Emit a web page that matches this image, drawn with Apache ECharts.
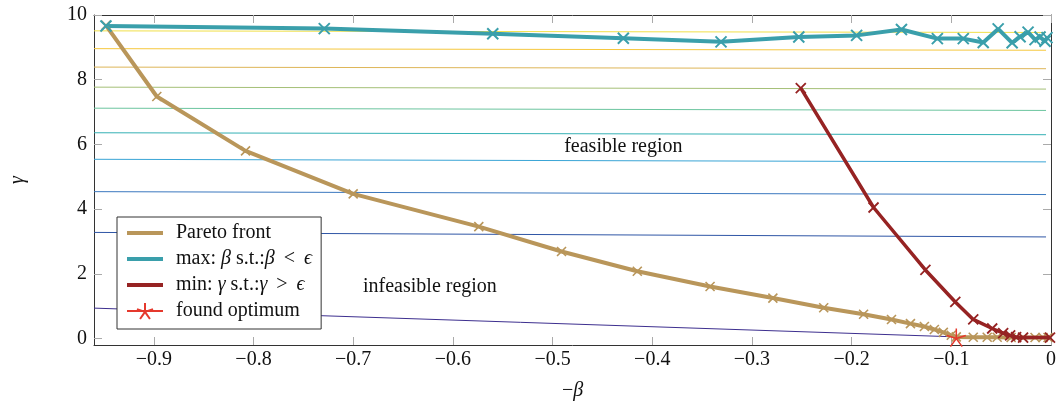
<!DOCTYPE html>
<html><head><meta charset="utf-8">
<script src="https://cdn.jsdelivr.net/npm/echarts@6/dist/echarts.min.js"></script>
<style>html,body{margin:0;padding:0;background:#fff}#c{width:1059px;height:406px}</style>
</head><body><div id="c"></div>
<script>
// ---- data ----
const xTicks = [-0.9, -0.8, -0.7, -0.6, -0.5, -0.4, -0.3, -0.2, -0.1, 0];
const yTicks = [0, 2, 4, 6, 8, 10];

const paretoFront = [
  [-0.948, 9.68], [-0.897, 7.48], [-0.808, 5.80], [-0.700, 4.47], [-0.574, 3.46],
  [-0.491, 2.69], [-0.415, 2.08], [-0.342, 1.61], [-0.279, 1.25], [-0.228, 0.95],
  [-0.188, 0.75], [-0.160, 0.59], [-0.141, 0.46], [-0.127, 0.37], [-0.117, 0.28],
  [-0.108, 0.19], [-0.100, 0.10], [-0.095, 0.05], [-0.078, 0.04], [-0.064, 0.04],
  [-0.054, 0.04], [-0.040, 0.03], [-0.028, 0.03], [-0.016, 0.03], [-0.008, 0.03],
  [-0.003, 0.03]
];
const maxBeta = [
  [-0.948, 9.66], [-0.729, 9.58], [-0.560, 9.42], [-0.429, 9.28], [-0.331, 9.17],
  [-0.253, 9.32], [-0.195, 9.37], [-0.150, 9.55], [-0.114, 9.27], [-0.088, 9.27],
  [-0.068, 9.15], [-0.053, 9.57], [-0.039, 9.14], [-0.031, 9.33], [-0.023, 9.47],
  [-0.016, 9.24], [-0.011, 9.32], [-0.006, 9.19], [-0.004, 9.30]
];
const minGamma = [
  [-0.251, 7.74], [-0.178, 4.05], [-0.126, 2.12], [-0.096, 1.13], [-0.078, 0.59],
  [-0.059, 0.31], [-0.048, 0.17], [-0.041, 0.10], [-0.035, 0.04], [-0.028, 0.03],
  [-0.001, 0.03]
];
const foundOptimum = [[-0.095, 0.03]];

// level lines: [start, end]
const levelLines = [
  [[-0.96, 0.94], [-0.104, 0.06]],
  [[-0.96, 3.28], [-0.005, 3.14]],
  [[-0.96, 4.54], [-0.005, 4.45]],
  [[-0.96, 5.54], [-0.005, 5.46]],
  [[-0.96, 6.36], [-0.005, 6.30]],
  [[-0.96, 7.12], [-0.005, 7.05]],
  [[-0.96, 7.77], [-0.005, 7.71]],
  [[-0.96, 8.39], [-0.005, 8.34]],
  [[-0.96, 8.96], [-0.005, 8.91]],
  [[-0.96, 9.51], [-0.005, 9.46]]
];
const levelColors = ['#3d2f8f', '#2f56a6', '#3b78bf', '#3aa5d6', '#35b1b5',
                     '#6cc59f', '#a5c077', '#deb658', '#f6c83e', '#f1e049'];

const annotations = [
  { name: 'feasible region', value: [-0.429, 5.94] },
  { name: 'infeasible region', value: [-0.623, 1.60] }
];

const NAMES = ['Pareto front', 'max: β s.t.:β < ϵ', 'min: γ s.t.:γ > ϵ', 'found optimum'];

// ---- chart ----
const FONT = '"Liberation Serif", "DejaVu Serif", serif';
const TXT = '#111';
const X_MARK = 'path://M0,0L10,10M0,10L10,0';
const STAR = 'path://M0,0L0,-10M0,0L9.51,-3.09M0,0L5.88,8.09M0,0L-5.88,8.09M0,0L-9.51,-3.09';
const TAN = '#b9965a', TEAL = '#3a9fab', RED = '#962323', STARC = '#e5392d';

const fmtX = v => v === 0 ? '0' : (v < 0 ? '\u2212' : '') + Math.abs(v).toFixed(1);

const axisCommon = {
  type: 'value',
  splitLine: { show: false },
  axisLine: { show: true, onZero: false, lineStyle: { color: '#333', width: 1 } },
};

const series = [];
levelLines.forEach((seg, i) => {
  series.push({
    type: 'line', data: seg, showSymbol: false, silent: true, z: 1,
    lineStyle: { color: levelColors[i], width: 1 }, animation: false
  });
});
series.push({
  name: NAMES[0], type: 'line', data: paretoFront, z: 3,
  symbol: X_MARK, symbolSize: 9, showAllSymbol: true,
  lineStyle: { color: TAN, width: 4 },
  itemStyle: { color: TAN, borderColor: TAN, borderWidth: 1.6 }
});
series.push({
  name: NAMES[1], type: 'line', data: maxBeta, z: 3,
  symbol: X_MARK, symbolSize: 11, showAllSymbol: true,
  lineStyle: { color: TEAL, width: 4 },
  itemStyle: { color: TEAL, borderColor: TEAL, borderWidth: 2 }
});
series.push({
  name: NAMES[2], type: 'line', data: minGamma, z: 4,
  symbol: X_MARK, symbolSize: 10, showAllSymbol: true,
  lineStyle: { color: RED, width: 3.5 },
  itemStyle: { color: RED, borderColor: RED, borderWidth: 1.8 }
});
series.push({
  name: NAMES[3], type: 'line', data: foundOptimum, z: 5,
  symbol: STAR, symbolSize: 19, symbolKeepAspect: true,
  lineStyle: { color: STARC, width: 1.5 },
  itemStyle: { color: STARC, borderColor: STARC, borderWidth: 1.5 }
});
series.push({
  type: 'scatter', data: annotations, symbolSize: 0, silent: true, z: 2,
  itemStyle: { opacity: 1 },
  label: { show: true, position: 'inside', formatter: p => p.name, opacity: 1,
           fontFamily: FONT, fontSize: 20, color: TXT, textBorderWidth: 0 }
});

const chart = echarts.init(document.getElementById('c'), null, { renderer: 'canvas' });
chart.setOption({
  animation: false,
  backgroundColor: '#fff',
  grid: { left: 93, right: 4, top: 15, bottom: 59, containLabel: false },
  xAxis: [
    Object.assign({}, axisCommon, {
      min: -0.96, max: 0, position: 'bottom',
      axisTick: { show: true, inside: true, length: 8, customValues: xTicks, lineStyle: { color: '#aaa' } },
      axisLabel: { customValues: xTicks, formatter: fmtX, fontFamily: FONT, fontSize: 20, color: TXT, margin: 5 },
      name: '\u2212{i|β}', nameLocation: 'middle', nameGap: 36,
      nameTextStyle: { fontFamily: FONT, fontSize: 20, color: TXT,
        rich: { i: { fontFamily: FONT, fontSize: 20, fontStyle: 'italic', color: TXT } } }
    }),
    Object.assign({}, axisCommon, {
      min: -0.96, max: 0, position: 'top',
      axisTick: { show: true, inside: true, length: 8, customValues: xTicks, lineStyle: { color: '#aaa' } },
      axisLabel: { show: false }
    })
  ],
  yAxis: [
    Object.assign({}, axisCommon, {
      min: -0.2, max: 10, position: 'left',
      axisTick: { show: true, inside: true, length: 8, customValues: yTicks, lineStyle: { color: '#aaa' } },
      axisLabel: { customValues: yTicks, fontFamily: FONT, fontSize: 20, color: TXT, margin: 7 },
      name: 'γ', nameLocation: 'middle', nameGap: 66, nameRotate: 90,
      nameTextStyle: { fontFamily: FONT, fontSize: 20, fontStyle: 'italic', color: TXT }
    }),
    Object.assign({}, axisCommon, {
      min: -0.2, max: 10, position: 'right',
      axisTick: { show: true, inside: true, length: 8, customValues: yTicks, lineStyle: { color: '#aaa' } },
      axisLabel: { show: false }
    })
  ],
  legend: {
    left: 117, top: 217, orient: 'vertical',
    padding: [6, 9, 8, 9], itemGap: 6, itemWidth: 36, itemHeight: 20,
    borderColor: '#333', borderWidth: 1, backgroundColor: '#fff',
    selectedMode: false, z: 10,
    data: [
      { name: NAMES[0], icon: 'path://M0,0H36V4H0Z', itemStyle: { borderWidth: 0 } },
      { name: NAMES[1], icon: 'path://M0,0H36V4H0Z', itemStyle: { borderWidth: 0 } },
      { name: NAMES[2], icon: 'path://M0,0H36V4H0Z', itemStyle: { borderWidth: 0 } },
      { name: NAMES[3] }
    ],
    formatter: n => {
      if (n === NAMES[1]) return 'max: {i|β} s.t.:{i|β}\u2009 < \u2009{i|ϵ}';
      if (n === NAMES[2]) return 'min: {i|γ} s.t.:{i|γ}\u2009 > \u2009{i|ϵ}';
      return n;
    },
    textStyle: { fontFamily: FONT, fontSize: 20, color: TXT, padding: [0, 0, 0, 8],
      rich: { i: { fontFamily: FONT, fontSize: 20, fontStyle: 'italic', color: TXT } } }
  },
  series: series
});
</script></body></html>
